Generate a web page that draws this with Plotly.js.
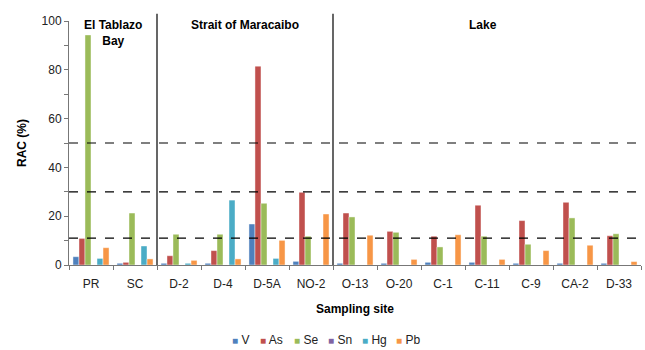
<!DOCTYPE html>
<html>
<head>
<meta charset="utf-8">
<script src="https://cdn.plot.ly/plotly-3.0.1.min.js"></script>
<style>html,body{margin:0;padding:0;background:#fff;}#chart{width:645px;height:350px;}</style>
</head>
<body>
<div id="chart"></div>
<script>
// Data
var sites = ["PR","SC","D-2","D-4","D-5A","NO-2","O-13","O-20","C-1","C-11","C-9","CA-2","D-33"];
var V  = [3.4, 0.7, 0.7, 0.7, 16.8, 1.5, 0.7, 0.7, 1.1, 1.1, 0.7, 0.7, 0.7];
var As = [10.9, 1.1, 3.8, 5.9, 81.5, 29.8, 21.3, 13.8, 11.8, 24.5, 18.2, 25.7, 12.0];
var Se = [94.3, 21.3, 12.6, 12.6, 25.3, 11.8, 19.7, 13.4, 7.4, 11.8, 8.5, 19.3, 12.8];
var Sn = [0, 0, 0, 0, 0, 0, 0, 0, 0, 0, 0, 0, 0];
var Hg = [2.7, 7.8, 0.7, 26.6, 2.7, 0, 0, 0, 0, 0, 0, 0, 0];
var Pb = [7.1, 2.5, 1.9, 2.5, 10.1, 20.9, 12.2, 2.3, 12.4, 2.3, 5.9, 8.1, 1.4];
var seriesNames = ["V","As","Se","Sn","Hg","Pb"];
var seriesValues = [V, As, Se, Sn, Hg, Pb];
var colors = ["#4F81BD","#C0504D","#9BBB59","#8064A2","#4BACC6","#F79646"];
var riskLevels = [11, 30, 50];
var regions = [
  {name: "El Tablazo<br>Bay", center: 0.5},
  {name: "Strait of Maracaibo", center: 3.5},
  {name: "Lake", center: 8.9}
];
var separators = [1.5, 5.5];

var FONT = "Liberation Sans, Arial, sans-serif";

var traces = seriesNames.map(function(n, i){
  return {
    type: "bar", name: n, x: sites, y: seriesValues[i], showlegend: false,
    marker: {color: colors[i], line: {color: "rgba(255,255,255,0.55)", width: 0.8}}
  };
});

var shapes = [];
riskLevels.forEach(function(v){
  shapes.push({type:"line", xref:"paper", yref:"y", x0:0, x1:1, y0:v, y1:v,
    line:{color:"#000", width:1.2, dash:"dash"}});
});
separators.forEach(function(s){
  shapes.push({type:"line", xref:"x", yref:"paper", x0:s, x1:s, y0:0, y1:1.03,
    line:{color:"#000", width:1.2}});
});

var annotations = regions.map(function(r){
  return {xref:"x", yref:"paper", x:r.center, y:1.02, yanchor:"top", xanchor:"center",
    text:"<b>"+r.name+"</b>", showarrow:false,
    font:{family:FONT, size:12, color:"#000"}};
});

// custom legend (small squares + names), laid out left to right
var legendLeftPx = [230, 258, 292, 326, 360, 394];
var plotL = 69, plotW = 572, plotT = 21, plotH = 244;
seriesNames.forEach(function(n, i){
  annotations.push({
    xref:"paper", yref:"paper",
    x:(legendLeftPx[i] - plotL)/plotW, y:(plotT + plotH - 340)/plotH,
    xanchor:"left", yanchor:"middle", showarrow:false,
    text:'<span style="color:'+colors[i]+';font-size:10px">■</span> '+n,
    font:{family:FONT, size:12, color:"#222"}
  });
});

var layout = {
  width: 645, height: 350,
  margin: {l: plotL, r: 4, t: plotT, b: 350 - plotT - plotH, autoexpand: false},
  paper_bgcolor: "#fff", plot_bgcolor: "#fff",
  barmode: "group", bargap: 0.18, bargroupgap: 0,
  font: {family: FONT, size: 12, color: "#222"},
  showlegend: false,
  xaxis: {
    type: "category", showline: true, linecolor: "#777", linewidth: 1,
    ticks: "outside", tickson: "boundaries", ticklen: 4, tickcolor: "#777",
    ticklabelstandoff: 8,
    showgrid: false, zeroline: false, automargin: false,
    tickfont: {family: FONT, size: 12, color: "#222"},
    title: {text: "<b>Sampling site</b>", font: {family: FONT, size: 12, color: "#000"}, standoff: 14}
  },
  yaxis: {
    range: [0, 100], dtick: 20, showline: true, linecolor: "#777", linewidth: 1,
    ticks: "outside", ticklen: 4, tickcolor: "#777",
    minor: {dtick: 10, ticks: "outside", ticklen: 4, tickcolor: "#777", showgrid: false},
    showgrid: false, zeroline: false, automargin: false,
    tickfont: {family: FONT, size: 12, color: "#222"},
    title: {text: "<b>RAC (%)</b>", font: {family: FONT, size: 12, color: "#000"}, standoff: 12}
  },
  shapes: shapes,
  annotations: annotations
};

Plotly.newPlot("chart", traces, layout, {displayModeBar: false, staticPlot: true});
</script>
</body>
</html>
